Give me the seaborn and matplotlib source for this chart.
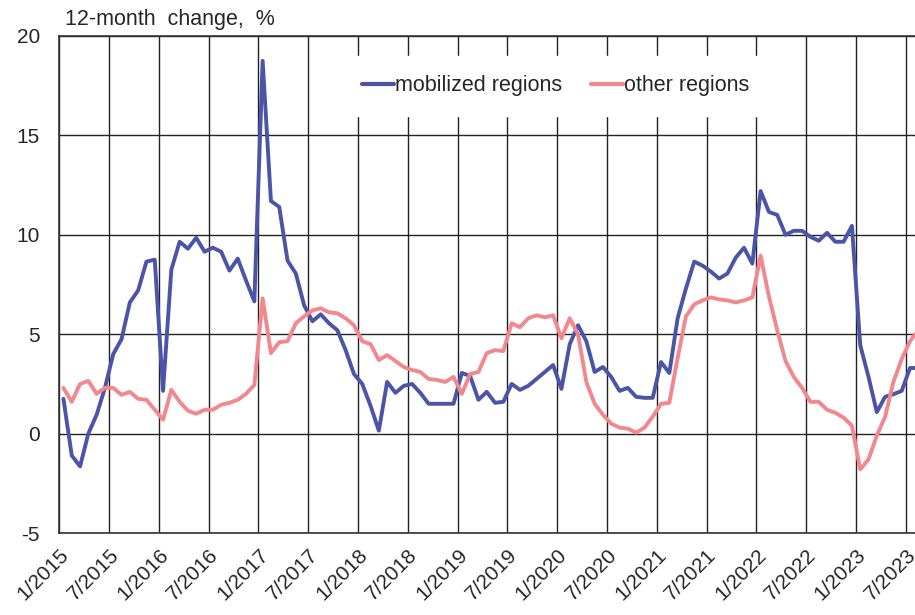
import matplotlib
matplotlib.use('Agg')
import matplotlib.pyplot as plt
import seaborn as sns
import numpy as np
import pandas as pd

# monthly 12-month change, 1/2015 .. 8/2023
mobilized = [1.75, -1.1, -1.65, 0.0, 0.95, 2.3, 4.0, 4.75, 6.6, 7.2, 8.65, 8.75,
             2.15, 8.25, 9.65, 9.3, 9.85, 9.15, 9.35, 9.15, 8.2, 8.8, 7.7, 6.65,
             18.75, 11.7, 11.4, 8.7, 8.05, 6.45, 5.65, 6.0, 5.55, 5.2, 4.2, 3.0,
             2.5, 1.4, 0.15, 2.6, 2.05, 2.4, 2.5, 2.05, 1.5, 1.5, 1.5, 1.5,
             3.05, 2.9, 1.7, 2.1, 1.55, 1.6, 2.5, 2.2, 2.4, 2.75, 3.1, 3.45,
             2.25, 4.5, 5.45, 4.65, 3.1, 3.35, 2.85, 2.15, 2.3, 1.85, 1.8, 1.8,
             3.6, 3.05, 5.8, 7.3, 8.65, 8.45, 8.15, 7.8, 8.05, 8.85, 9.35, 8.55,
             12.2, 11.15, 11.0, 10.0, 10.2, 10.2, 9.9, 9.7, 10.1, 9.65, 9.65, 10.45,
             4.45, 2.85, 1.08, 1.85, 1.98, 2.15, 3.3, 3.3]
other = [2.3, 1.6, 2.5, 2.65, 2.0, 2.3, 2.3, 1.95, 2.1, 1.75, 1.7, 1.2,
         0.7, 2.2, 1.6, 1.15, 1.0, 1.2, 1.2, 1.45, 1.55, 1.7, 2.0, 2.45,
         6.8, 4.05, 4.6, 4.65, 5.55, 5.9, 6.2, 6.3, 6.1, 6.05, 5.8, 5.45,
         4.65, 4.5, 3.7, 3.95, 3.65, 3.35, 3.2, 3.1, 2.75, 2.7, 2.6, 2.85,
         2.0, 3.0, 3.1, 4.05, 4.2, 4.15, 5.55, 5.35, 5.8, 5.95, 5.85, 5.95,
         4.8, 5.8, 5.0, 2.6, 1.5, 0.95, 0.5, 0.3, 0.25, 0.05, 0.3, 0.85,
         1.5, 1.55, 3.8, 5.9, 6.5, 6.7, 6.85, 6.75, 6.7, 6.6, 6.7, 6.85,
         8.95, 6.9, 5.2, 3.65, 2.85, 2.3, 1.6, 1.6, 1.2, 1.05, 0.8, 0.4,
         -1.8, -1.3, -0.1, 0.85, 2.6, 3.75, 4.65, 5.2]
tick_labels = [f"{m}/{y}" for y in range(2015, 2024) for m in (1, 7)]

months = np.arange(len(mobilized))
df = pd.DataFrame({'month': np.concatenate([months + 0.5, months + 0.5]),
                   'value': mobilized + other,
                   'series': ['mobilized regions'] * len(mobilized) + ['other regions'] * len(other)})

sns.set_style('white')
plt.rcParams['font.family'] = ['Liberation Sans', 'DejaVu Sans']
plt.rcParams['axes.unicode_minus'] = False

fig = plt.figure(figsize=(9.15, 6.15), dpi=100)
ax = fig.add_axes([0.0648, 0.1333, 0.9352, 0.8082])

sns.lineplot(data=df, x='month', y='value', hue='series',
             palette={'mobilized regions': '#4a55a8', 'other regions': '#f2878d'},
             linewidth=2.8, ax=ax)

ax.set_xlim(0, 103.1)
ax.set_ylim(-5, 20)
ax.set_xticks(np.arange(0, 103, 6))
ax.set_xticklabels(tick_labels, rotation=45, ha='right', rotation_mode='anchor', fontsize=15)
ax.set_yticks([-5, 0, 5, 10, 15, 20])
ax.tick_params(axis='y', labelsize=15, length=0, pad=14)
ax.tick_params(axis='x', length=0, pad=9)
ax.grid(True, color='#222222', linewidth=1.0)
ax.set_axisbelow(True)
for side in ['left', 'bottom', 'top']:
    ax.spines[side].set_color('#333333')
    ax.spines[side].set_linewidth(1.2)
ax.spines['right'].set_visible(False)
ax.set_xlabel('')
ax.set_ylabel('')

leg = ax.legend(loc='center', bbox_to_anchor=(0.58, 0.9), ncol=2, fontsize=15.5,
                frameon=True, fancybox=False, handlelength=1.5, handletextpad=0.05,
                columnspacing=1.3, borderpad=0.9)
leg.get_frame().set_facecolor('white')
leg.get_frame().set_edgecolor('white')
leg.get_frame().set_alpha(1.0)
for line in leg.get_lines():
    line.set_linewidth(3)

fig.text(0.071, 0.968, '12-month  change,  %', fontsize=15.5, va='center', ha='left')

fig.savefig('out.png', dpi=100)
